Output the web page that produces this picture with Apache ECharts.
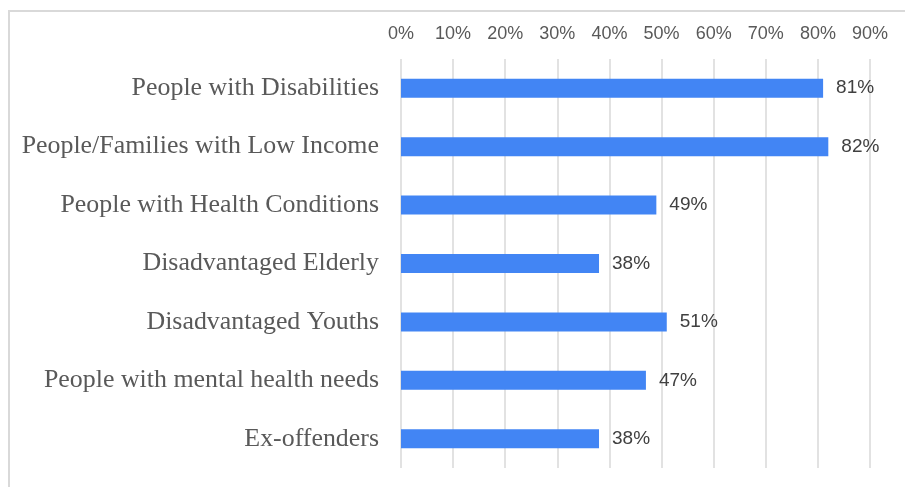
<!DOCTYPE html>
<html>
<head>
<meta charset="utf-8">
<script src="https://cdn.jsdelivr.net/npm/echarts@6/dist/echarts.min.js"></script>
<style>
  html, body { margin: 0; padding: 0; background: #fff; }
  #chart { width: 905px; height: 487px; }
</style>
</head>
<body>
<div id="chart"></div>
<script>
// Groups served, share of respondents (%)
const groups = [
  'People with Disabilities',
  'People/Families with Low Income',
  'People with Health Conditions',
  'Disadvantaged Elderly',
  'Disadvantaged Youths',
  'People with mental health needs',
  'Ex-offenders'
];
const shares = [81, 82, 49, 38, 51, 47, 38];
const tickMax = 90;
const tickStep = 10;

const chart = echarts.init(document.getElementById('chart'), null, { renderer: 'canvas' });

chart.setOption({
  backgroundColor: '#ffffff',
  animation: false,
  graphic: [
    {
      type: 'rect',
      shape: { x: 9, y: 11, width: 1200, height: 1200 },
      style: { fill: 'none', stroke: '#d9d9d9', lineWidth: 2 },
      silent: true
    }
  ],
  grid: { left: 401, right: 35, top: 59, bottom: 19, containLabel: false },
  xAxis: {
    type: 'value',
    position: 'top',
    min: 0,
    max: tickMax,
    interval: tickStep,
    axisLine: { show: false },
    axisTick: { show: false },
    axisLabel: {
      formatter: v => v + '%',
      color: '#595959',
      fontFamily: 'Liberation Sans, Arial, sans-serif',
      fontSize: 18,
      margin: 16
    },
    splitLine: { show: true, lineStyle: { color: '#d9d9d9', width: 1.5 } }
  },
  yAxis: {
    type: 'category',
    data: groups,
    inverse: true,
    axisLine: { show: false },
    axisTick: { show: false },
    axisLabel: {
      color: '#595959',
      fontFamily: 'Liberation Serif, Times New Roman, serif',
      fontSize: 25.9,
      margin: 22
    },
    splitLine: { show: false }
  },
  series: [
    {
      type: 'bar',
      data: shares,
      barWidth: 19,
      itemStyle: { color: '#4285f4' },
      label: {
        show: true,
        position: 'right',
        distance: 13,
        formatter: p => p.value + '%',
        color: '#404040',
        fontFamily: 'Liberation Sans, Arial, sans-serif',
        fontSize: 19
      }
    }
  ]
});
</script>
</body>
</html>
